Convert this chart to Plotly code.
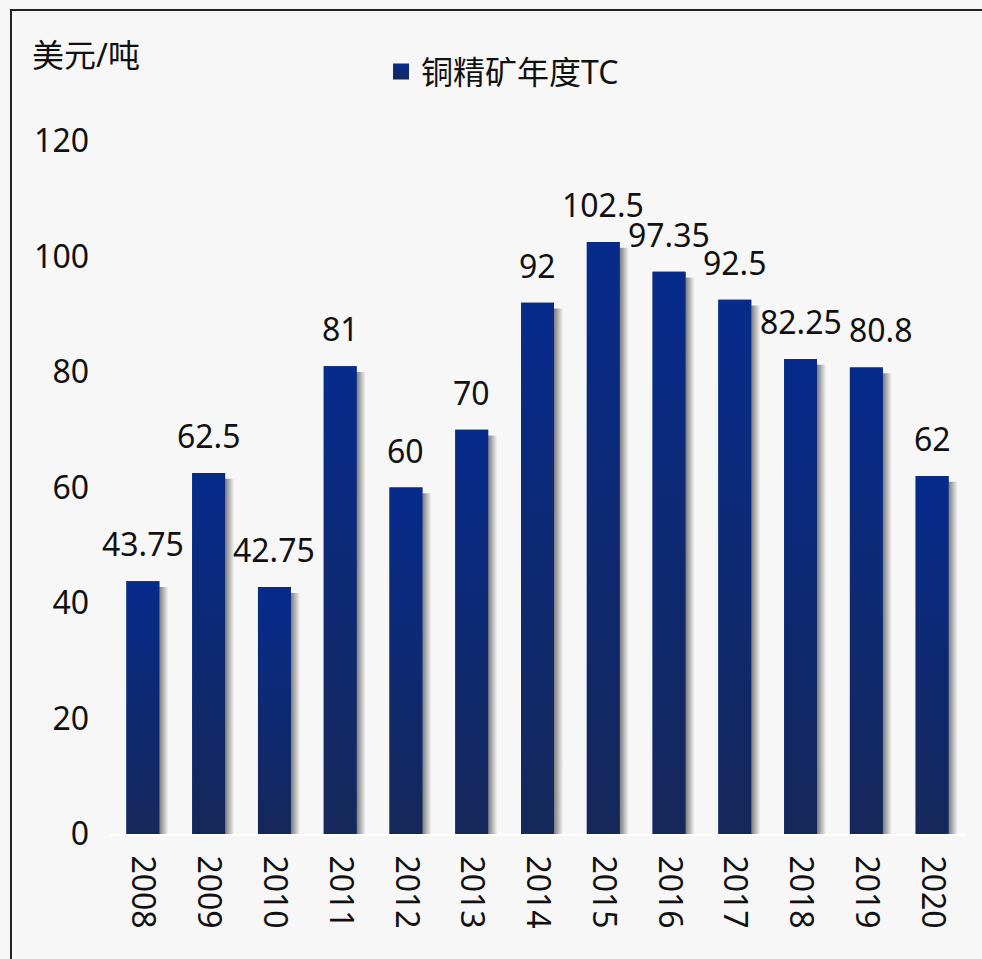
import plotly.graph_objects as go

# data
years = ["2008", "2009", "2010", "2011", "2012", "2013", "2014",
         "2015", "2016", "2017", "2018", "2019", "2020"]
tc_values = [43.75, 62.5, 42.75, 81, 60, 70, 92, 102.5, 97.35, 92.5, 82.25, 80.8, 62]
series_name = "铜精矿年度TC"
unit_label = "美元/吨"

FONT = "Noto Sans, Noto Sans CJK SC, sans-serif"
TOP_BLUE = "#062b8c"
BOTTOM_NAVY = "#16285a"
BG = "#f7f7f7"
HALF_W = 0.25
FS = 32

idx = list(range(len(years)))

fig = go.Figure()

# base bars
fig.add_trace(go.Bar(
    x=idx, y=tc_values, width=2 * HALF_W, name=series_name,
    marker=dict(color=TOP_BLUE, line=dict(width=0)),
    showlegend=False, hoverinfo="x+y",
))

# soft shadow and vertical gradient on each bar
for i, v in zip(idx, tc_values):
    x0, x1 = i - HALF_W, i + HALF_W
    fig.add_trace(go.Scatter(
        x=[x1, x1 + 0.14, x1 + 0.14, x1, x1], y=[0, 0, v - 1.0, v - 1.0, 0],
        mode="lines", line=dict(width=0), fill="toself",
        fillgradient=dict(type="horizontal",
                          colorscale=[[0, "rgba(0,0,0,0.5)"], [1, "rgba(0,0,0,0)"]]),
        showlegend=False, hoverinfo="skip",
    ))
    fig.add_trace(go.Scatter(
        x=[x0, x1, x1, x0, x0], y=[0, 0, v, v, 0],
        mode="lines", line=dict(width=0), fill="toself",
        fillgradient=dict(type="vertical",
                          colorscale=[[0, BOTTOM_NAVY], [1, TOP_BLUE]]),
        showlegend=False, hoverinfo="skip",
    ))

# legend entry
fig.add_trace(go.Scatter(
    x=[None], y=[None], mode="markers", name=series_name,
    marker=dict(symbol="square", size=20, color=TOP_BLUE,
                gradient=dict(type="vertical", color=BOTTOM_NAVY)),
))

# value labels (2019 label nudged right like in the source chart)
nudge = {"2019": 15}
labels = [dict(x=i, y=v, text=f"{v:g}", xref="x", yref="y",
               yanchor="bottom", yshift=14, xshift=nudge.get(yr, 0), showarrow=False,
               font=dict(size=FS, color="#111111"))
          for i, v, yr in zip(idx, tc_values, years)]
labels.append(dict(text=unit_label, xref="paper", yref="paper",
                   x=-0.093, y=1.1255, xanchor="left", yanchor="middle",
                   showarrow=False, font=dict(size=FS)))

fig.update_layout(
    width=982, height=959,
    margin=dict(l=110, r=17, t=141, b=125),
    paper_bgcolor=BG, plot_bgcolor=BG,
    font=dict(family=FONT, size=FS, color="#111111"),
    legend=dict(orientation="h", x=0.317, y=1.1, xanchor="left", yanchor="middle",
                bgcolor="rgba(0,0,0,0)", font=dict(size=FS), itemsizing="trace"),
    annotations=labels,
    shapes=[dict(type="rect", xref="paper", yref="paper",
                 x0=-0.1158, x1=1.05, y0=-0.3, y1=1.189,
                 line=dict(color="#222222", width=2), layer="above")],
)
fig.update_xaxes(
    range=[-0.5, len(years) - 0.5], tickmode="array", tickvals=idx, ticktext=years,
    tickangle=90, showgrid=False, zeroline=False,
    showline=True, linecolor="white", linewidth=2,
    ticks="", ticklabelstandoff=13,
)
fig.update_yaxes(
    range=[0, 120], dtick=20, showgrid=False, zeroline=False, showline=False,
    ticks="", ticklabelstandoff=20,
)

fig.write_html("out.html", config={"displayModeBar": False},
               post_script="document.body.style.margin='0px';")
